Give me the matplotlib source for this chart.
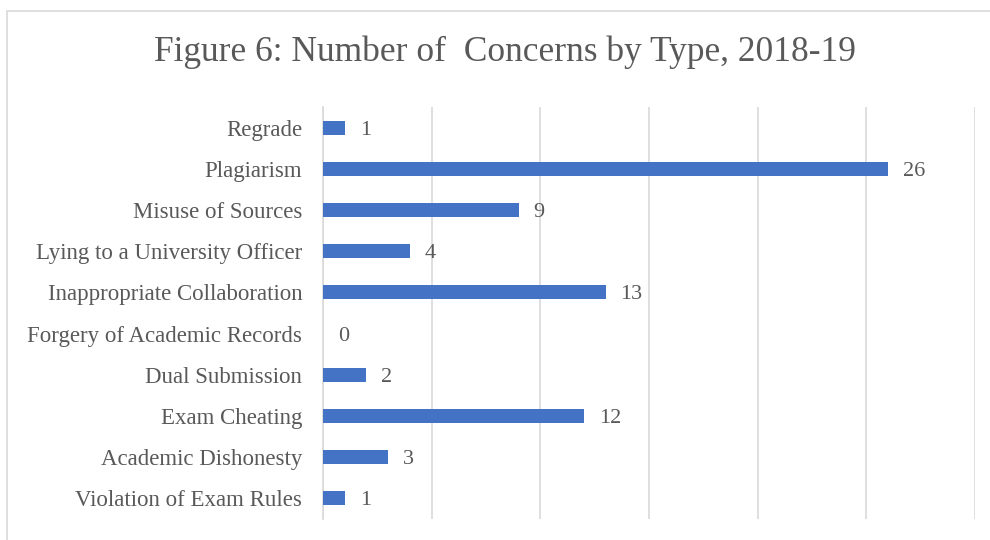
import matplotlib.pyplot as plt
from matplotlib.patches import Rectangle

# concern types listed bottom to top, as drawn on the y axis
concern_types = [
    "Violation of Exam Rules",
    "Academic Dishonesty",
    "Exam Cheating",
    "Dual Submission",
    "Forgery of Academic Records",
    "Inappropriate Collaboration",
    "Lying to a University Officer",
    "Misuse of Sources",
    "Plagiarism",
    "Regrade",
]
concern_counts = [1, 3, 12, 2, 0, 13, 4, 9, 26, 1]
x_ticks = [0, 5, 10, 15, 20, 25, 30]

text_grey = "#595959"
bar_blue = "#4472C4"
line_grey = "#D9D9D9"

plt.rcParams["font.family"] = ["Liberation Serif", "DejaVu Serif"]

fig = plt.figure(figsize=(9.9, 5.4), dpi=100)
ax = fig.add_axes([0.3263, 0.0389, 0.6585, 0.763])

# outer chart frame (runs off the right and bottom edges)
fig.patches.append(Rectangle((7 / 990, -0.05), 1.1, 1 - 11 / 540 + 0.05,
                             transform=fig.transFigure, fill=False,
                             edgecolor=line_grey, linewidth=1.2))

ypos = range(len(concern_types))
ax.barh(ypos, concern_counts, height=0.34, color=bar_blue, zorder=3)

for y, v in zip(ypos, concern_counts):
    ax.annotate(str(v), (v, y), xytext=(15, 0), textcoords="offset pixels",
                ha="left", va="center_baseline", fontsize=16, color=text_grey)

ax.set_xlim(0, 30)
ax.set_ylim(-0.5, len(concern_types) - 0.5)
ax.set_xticks(x_ticks)
ax.set_xticklabels([])
ax.tick_params(axis="x", length=0)
ax.grid(axis="x", color=line_grey, linewidth=1.2, zorder=0)

ax.set_yticks(list(ypos))
ax.set_yticklabels(concern_types, fontsize=16.5, color=text_grey,
                   va="center_baseline")
ax.tick_params(axis="y", length=0, pad=15)

for side in ["top", "right", "bottom"]:
    ax.spines[side].set_visible(False)
ax.spines["left"].set_color(line_grey)
ax.spines["left"].set_linewidth(1.2)

fig.text(505 / 990, 1 - 52 / 540, "Figure 6: Number of  Concerns by Type, 2018-19",
         ha="center", va="center", fontsize=25.5, color=text_grey)

fig.savefig("out.png", dpi=100)
